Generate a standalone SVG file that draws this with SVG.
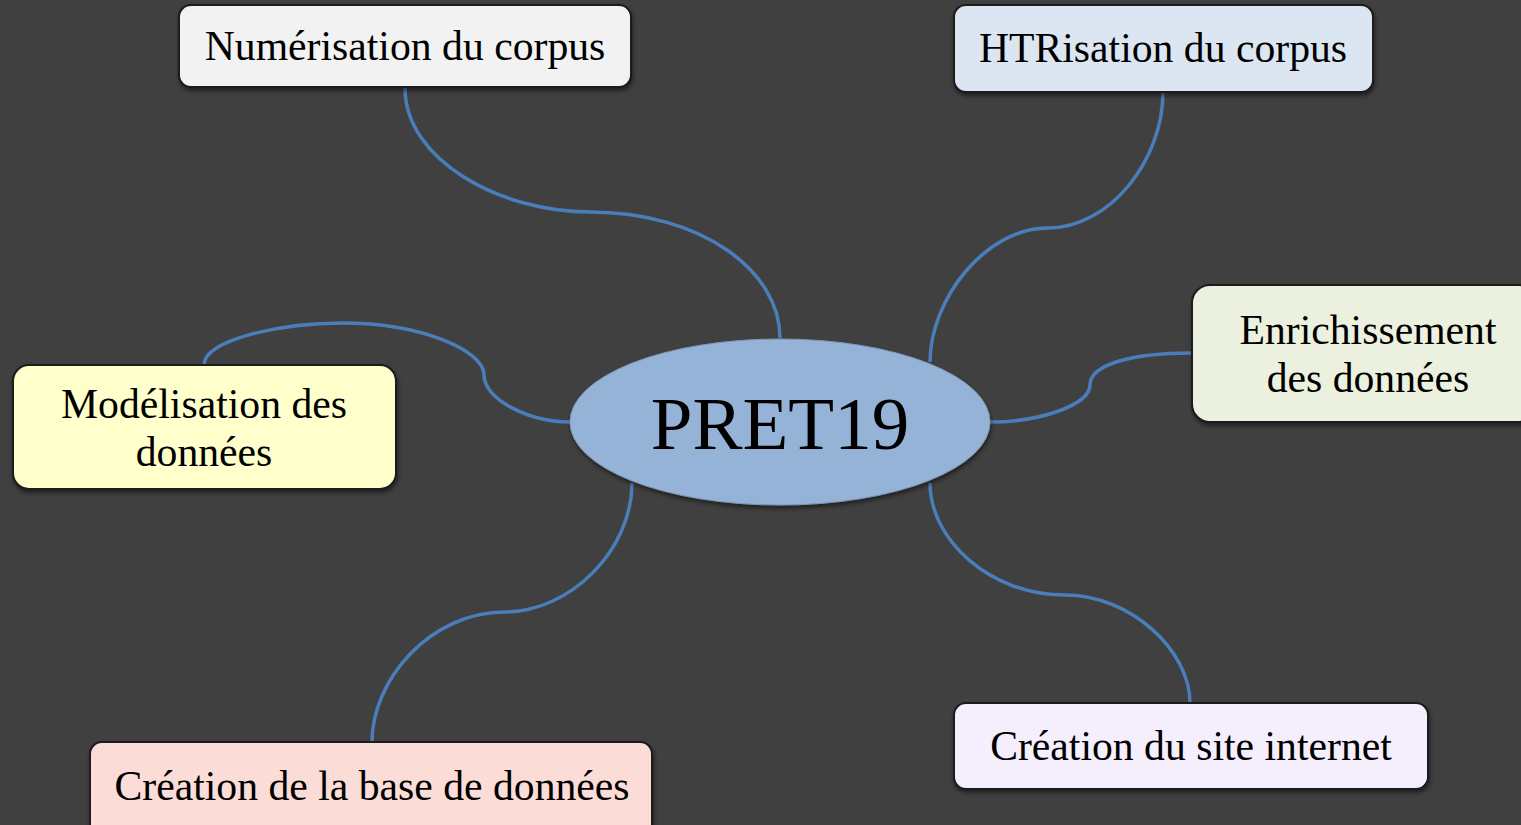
<svg xmlns="http://www.w3.org/2000/svg" width="1521" height="825" viewBox="0 0 1521 825">
<style>
.box{stroke:#1a1a1a;stroke-width:2;filter:url(#sh)}
.t{font-family:"Liberation Serif","Times New Roman",serif;font-size:41.7px;fill:#000;text-anchor:middle}
.c{fill:none;stroke:#4a7ebb;stroke-width:3.5}
</style>
<defs>
<filter id="sh" x="-10%" y="-10%" width="120%" height="130%">
<feDropShadow dx="1" dy="3" stdDeviation="2" flood-color="#000" flood-opacity="0.5"/>
</filter>
</defs>
<rect width="1521" height="825" fill="#404040"/>
<g id="connectors">
<path class="c" d="M405,88 C405,160 500,212 590,212 C700,212 780,270 780,338"/>
<path class="c" d="M1163,92 C1163,160 1110,228 1048,228 C985,228 930,300 930,362"/>
<path class="c" d="M1192,353 C1130,353 1090,365 1090,385 C1090,405 1040,422 990,422"/>
<path class="c" d="M204,365 C204,340 280,323 343,323 C420,323 484,350 484,375 C484,400 530,422 570,422"/>
<path class="c" d="M632,483 C632,550 570,612 505,612 C430,612 372,680 372,742"/>
<path class="c" d="M930,483 C930,540 990,595 1065,595 C1130,595 1190,650 1190,703"/>
</g>
<g id="center">
<ellipse cx="780" cy="422" rx="210" ry="83" fill="#95b3d7" stroke="#7f97b5" stroke-width="1" filter="url(#sh)"/>
<text x="780" y="449" class="t" style="font-size:75px">PRET19</text>
</g>
<g id="numerisation">
<rect class="box" x="179" y="5" width="452" height="82" rx="12" fill="#f2f2f2"/>
<text class="t" x="405" y="60">Numérisation du corpus</text>
</g>
<g id="htrisation">
<rect class="box" x="954" y="5" width="419" height="87" rx="12" fill="#dce6f2"/>
<text class="t" x="1163" y="62">HTRisation du corpus</text>
</g>
<g id="enrichissement">
<rect class="box" x="1192" y="285" width="345" height="137" rx="18" fill="#ebf1de"/>
<text class="t" x="1368" y="344">Enrichissement</text>
<text class="t" x="1368" y="392">des données</text>
</g>
<g id="modelisation">
<rect class="box" x="13" y="365" width="383" height="124" rx="16" fill="#ffffcc"/>
<text class="t" x="204" y="418">Modélisation des</text>
<text class="t" x="204" y="466">données</text>
</g>
<g id="base">
<rect class="box" x="90" y="742" width="562" height="100" rx="12" fill="#fcdcd6"/>
<text class="t" x="372" y="800">Création de la base de données</text>
</g>
<g id="site">
<rect class="box" x="954" y="703" width="474" height="86" rx="12" fill="#f4eefd"/>
<text class="t" x="1191" y="760">Création du site internet</text>
</g>
</svg>
